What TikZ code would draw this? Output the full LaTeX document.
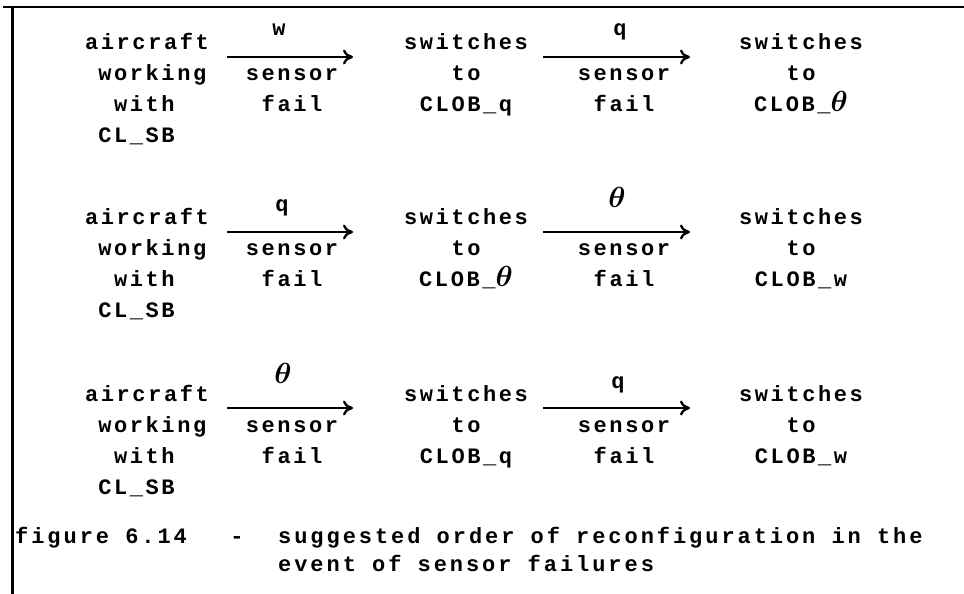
\documentclass[tikz,border=0pt]{standalone}
\usepackage{fontspec}
\usepackage{bm}
\usepackage{tikz}
\usetikzlibrary{arrows.meta}
\newfontfamily\typer[LetterSpace=11.8]{Liberation Mono}
\newfontfamily\capfont[LetterSpace=13.4]{Liberation Mono}
\newcommand{\typesz}{\fontsize{22}{31}\selectfont}
\newcommand{\thet}{\scalebox{1.4}{$\bm{\theta}$}}
\newcommand{\firstrule}{\rule{0pt}{21.7pt}}
\begin{document}
\begin{tikzpicture}[x=1pt, y=-1pt,
  blk/.style={font=\typer\bfseries\typesz, align=center, anchor=north, inner sep=0pt},
  blkl/.style={blk, align=left},
  sym/.style={font=\typer\bfseries\typesz, anchor=base, inner sep=0pt},
  captxt/.style={font=\capfont\bfseries\typesz, anchor=base west, inner sep=0pt},
  flow/.style={-{To[length=10pt,width=15pt]}, line width=2.3pt},
  frame/.style={line width=2.6pt}]
\useasboundingbox (0,0) rectangle (964,594);
\draw[frame] (3,7) -- (964,7);
\draw[frame, line width=3pt] (12,7) -- (12,594);
% row 1
\node[blkl] (a1) at (147,27.3) {\firstrule aircraft\\\hphantom{a}working\\\hphantom{aa}with\\\hphantom{a}CL\_SB};
\node[blk] (b1) at (466,27.3) {\firstrule switches\\to\\CLOB\_q};
\node[blk] (c1) at (801,27.3) {\firstrule switches\\to\\CLOB\_\thet};
\node[sym] (w1) at (279,36) {w};
\node[sym] (w2) at (620,36) {q};
\node[blk] (s1) at (292,58.3) {\firstrule sensor\\fail};
\node[blk] (s2) at (624,58.3) {\firstrule sensor\\fail};
\coordinate (t1) at (227,57);
\coordinate (h1) at (353,57);
\coordinate (t2) at (543,57);
\coordinate (h2) at (690,57);
\draw[flow] (t1) -- (h1);
\draw[flow] (t2) -- (h2);
% row 2
\node[blkl] (a2) at (147,202.3) {\firstrule aircraft\\\hphantom{a}working\\\hphantom{aa}with\\\hphantom{a}CL\_SB};
\node[blk] (b2) at (466,202.3) {\firstrule switches\\to\\CLOB\_\thet};
\node[blk] (c2) at (801,202.3) {\firstrule switches\\to\\CLOB\_w};
\node[sym] (w3) at (282,211) {q};
\node[sym] (w4) at (617,207) {\thet};
\node[blk] (s3) at (292,233.3) {\firstrule sensor\\fail};
\node[blk] (s4) at (624,233.3) {\firstrule sensor\\fail};
\coordinate (t3) at (227,232);
\coordinate (h3) at (353,232);
\coordinate (t4) at (543,232);
\coordinate (h4) at (690,232);
\draw[flow] (t3) -- (h3);
\draw[flow] (t4) -- (h4);
% row 3
\node[blkl] (a3) at (147,379.3) {\firstrule aircraft\\\hphantom{a}working\\\hphantom{aa}with\\\hphantom{a}CL\_SB};
\node[blk] (b3) at (466,379.3) {\firstrule switches\\to\\CLOB\_q};
\node[blk] (c3) at (801,379.3) {\firstrule switches\\to\\CLOB\_w};
\node[sym] (w5) at (283,383) {\thet};
\node[sym] (w6) at (618,388) {q};
\node[blk] (s5) at (292,410.3) {\firstrule sensor\\fail};
\node[blk] (s6) at (624,410.3) {\firstrule sensor\\fail};
\coordinate (t5) at (227,408);
\coordinate (h5) at (353,408);
\coordinate (t6) at (543,408);
\coordinate (h6) at (690,408);
\draw[flow] (t5) -- (h5);
\draw[flow] (t6) -- (h6);
% caption
\node[captxt] (fig) at (15,543) {figure 6.14};
\node[sym] (dash) at (237,543) {-};
\node[captxt] (cap1) at (278,543) {suggested order of reconfiguration in the};
\node[captxt] (cap2) at (278,571) {event of sensor failures};
\end{tikzpicture}
\end{document}
